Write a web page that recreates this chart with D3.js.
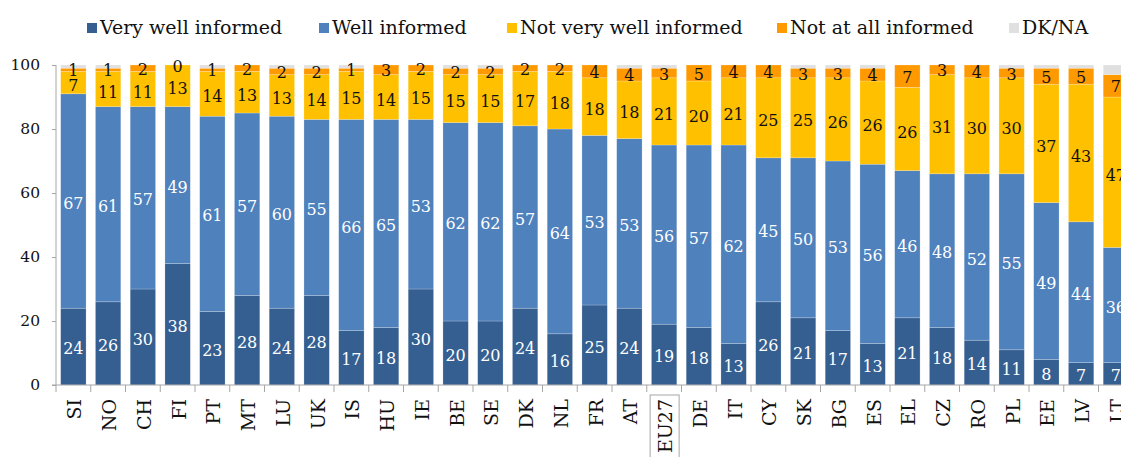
<!DOCTYPE html>
<html><head><meta charset="utf-8">
<script src="https://cdn.jsdelivr.net/npm/d3@7/dist/d3.min.js"></script>
<style>body{margin:0;background:#fff}svg{display:block}</style>
</head><body>
<script>
const categories = ["SI","NO","CH","FI","PT","MT","LU","UK","IS","HU","IE","BE","SE","DK","NL","FR","AT","EU27","DE","IT","CY","SK","BG","ES","EL","CZ","RO","PL","EE","LV","LT"];
const veryWell   = [24,26,30,38,23,28,24,28,17,18,30,20,20,24,16,25,24,19,18,13,26,21,17,13,21,18,14,11,8,7,7];
const well       = [67,61,57,49,61,57,60,55,66,65,53,62,62,57,64,53,53,56,57,62,45,50,53,56,46,48,52,55,49,44,36];
const notVery    = [7,11,11,13,14,13,13,14,15,14,15,15,15,17,18,18,18,21,20,21,25,25,26,26,26,31,30,30,37,43,47];
const notAtAll   = [1,1,2,0,1,2,2,2,1,3,2,2,2,2,2,4,4,3,5,4,4,3,3,4,7,3,4,3,5,5,7];
const dkna       = [1,1,0,0,1,0,1,1,1,0,0,1,1,0,0,0,1,1,0,0,0,1,1,1,0,0,0,1,1,1,3];
const seriesNames = ["Very well informed","Well informed","Not very well informed","Not at all informed","DK/NA"];
const yTicks = [0,20,40,60,80,100];
const highlighted = "EU27";

const colors = ["#365f91","#4f81bd","#ffc000","#ff9900","#e0e0e0"];
const labelColors = ["#ffffff","#ffffff","#111111","#111111",null];
const labelNudge = [2, 2, 3, 1, 0];
const FONT = "'DejaVu Serif', 'Liberation Serif', serif";

const W = 1121, H = 457;
const svg = d3.select("body").append("svg").attr("width", W).attr("height", H);

const seriesData = [veryWell, well, notVery, notAtAll, dkna];
const rows = categories.map((c, i) => {
  const r = {cat: c};
  seriesNames.forEach((s, k) => r[s] = seriesData[k][i]);
  return r;
});
const stacked = d3.stack().keys(seriesNames)(rows);

const x0 = 56, step = 34.75;
const x = d3.scaleBand().domain(categories).range([x0, x0 + step * categories.length])
  .paddingInner(0.27).paddingOuter(0.135);
const y = d3.scaleLinear().domain([0, 100]).range([385, 65]);

// bars
stacked.forEach((layer, k) => {
  svg.append("g").selectAll("rect").data(layer).join("rect")
    .attr("x", d => x(d.data.cat))
    .attr("width", x.bandwidth())
    .attr("y", d => y(d[1]))
    .attr("height", d => Math.max(0, y(d[0]) - y(d[1])))
    .attr("fill", colors[k])
    .attr("stroke", "rgba(255,255,255,0.35)")
    .attr("stroke-width", 0.6);
});

// value labels
stacked.forEach((layer, k) => {
  if (!labelColors[k]) return;
  svg.append("g").selectAll("text").data(layer).join("text")
    .attr("x", d => x(d.data.cat) + x.bandwidth() / 2)
    .attr("y", d => y((d[0] + d[1]) / 2) + labelNudge[k])
    .attr("text-anchor", "middle")
    .attr("dominant-baseline", "central")
    .attr("font-family", FONT)
    .attr("font-size", 16)
    .attr("fill", labelColors[k])
    .text(d => d[1] - d[0]);
});

// y axis
const yAxis = d3.axisLeft(y).tickValues(yTicks).tickSize(4).tickPadding(12);
const gy = svg.append("g").attr("transform", `translate(${x0},0)`).call(yAxis);
gy.select(".domain").attr("stroke", "#a6a6a6").attr("d", `M0,${y(100)}V${y(0)}`);
gy.selectAll(".tick line").attr("stroke", "#a6a6a6");
gy.selectAll("text").attr("font-family", FONT).attr("font-size", 15.5).attr("fill", "#111");

// x axis baseline + boundary ticks
svg.append("line").attr("x1", x0 - 4).attr("x2", W).attr("y1", y(0)).attr("y2", y(0))
  .attr("stroke", "#a6a6a6");
svg.append("g").selectAll("line").data(d3.range(categories.length + 1)).join("line")
  .attr("x1", i => x0 + i * step).attr("x2", i => x0 + i * step)
  .attr("y1", y(0)).attr("y2", y(0) + 7).attr("stroke", "#a6a6a6");

// x labels
const xl = svg.append("g").selectAll("g").data(categories).join("g")
  .attr("transform", c => `translate(${x(c) + x.bandwidth() / 2 + 1},399) rotate(-90)`);
xl.filter(c => c === highlighted).append("rect")
  .attr("x", -70).attr("y", -15)
  .attr("width", 74).attr("height", 29)
  .attr("fill", "none").attr("stroke", "#a6a6a6");
xl.append("text")
  .attr("text-anchor", "end")
  .attr("dominant-baseline", "central")
  .attr("font-family", FONT)
  .attr("font-size", 19)
  .attr("fill", "#111")
  .text(c => c);

// legend
const legendX = [87, 319, 507, 777, 1009];
const lg = svg.append("g").selectAll("g").data(seriesNames).join("g")
  .attr("transform", (d, i) => `translate(${legendX[i]},0)`);
lg.append("rect").attr("x", 0).attr("y", 23).attr("width", 10).attr("height", 10)
  .attr("fill", (d, i) => colors[i]);
lg.append("text").attr("x", 13).attr("y", 34)
  .attr("font-family", FONT).attr("font-size", 19).attr("fill", "#111")
  .text(d => d);
</script>
</body></html>
